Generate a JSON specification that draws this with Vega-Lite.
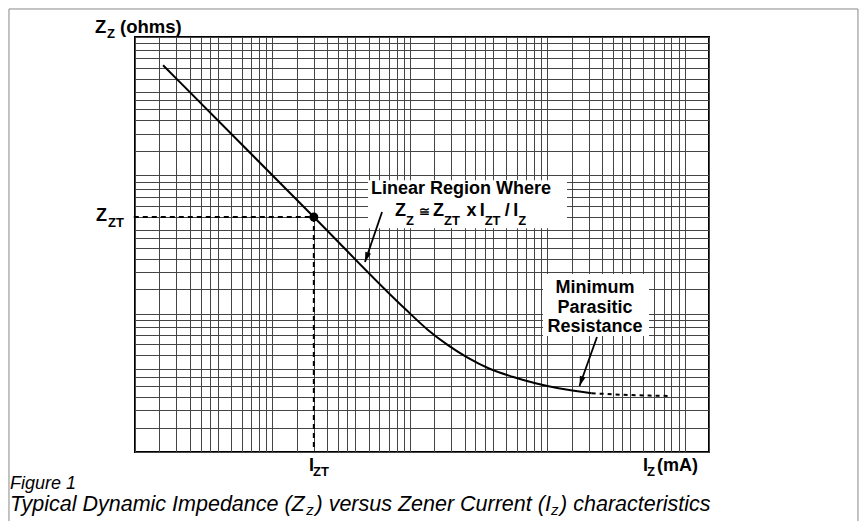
{
  "$schema": "https://vega.github.io/schema/vega-lite/v6.json",
  "width": 574,
  "height": 415,
  "autosize": {"type": "none"},
  "padding": {"left": 135, "top": 37, "right": 156, "bottom": 69},
  "background": "white",
  "config": {
    "view": {"stroke": "#000", "strokeWidth": 2},
    "font": "Liberation Sans"
  },
  "datasets": {
    "frame": [{"I": 0.1211, "I2": 181970, "Z": 1594, "Z2": 0.273}],
    "boxes": [
      {"I": 49.57, "I2": 1390, "Z": 92, "Z2": 41.5},
      {"I": 929.7, "I2": 5492, "Z": 19.36, "Z2": 6.9}
    ],
    "curve": [
      {"I": 1.6, "Z": 625}, {"I": 20, "Z": 50}, {"I": 93, "Z": 10.75},
      {"I": 136, "Z": 7.6}, {"I": 188, "Z": 5.95}, {"I": 259, "Z": 4.85},
      {"I": 380, "Z": 4.0}, {"I": 558, "Z": 3.5}, {"I": 820, "Z": 3.14},
      {"I": 1205, "Z": 2.89}, {"I": 2100, "Z": 2.66}
    ],
    "tail": [{"I": 2100, "Z": 2.66}, {"I": 4000, "Z": 2.58}, {"I": 8030, "Z": 2.54}],
    "refs": [
      {"I": 0.98, "I2": 20, "Z": 50, "Z2": 50},
      {"I": 20, "I2": 20, "Z": 50, "Z2": 1}
    ],
    "point": [{"I": 20, "Z": 50}],
    "arrows": [
      {"I": 62.7, "Z": 54.3, "I2": 47.1, "Z2": 23.6},
      {"I": 2297, "Z": 6.78, "I2": 1714, "Z2": 3.0}
    ],
    "centerBold": [
      {"I": 235.4, "Z": 73.0, "t": "Linear Region Where"},
      {"I": 2222, "Z": 14.1, "t": "Minimum"},
      {"I": 2222, "Z": 10.1, "t": "Parasitic"},
      {"I": 2222, "Z": 7.37, "t": "Resistance"}
    ],
    "titleBold": [
      {"I": 0.5117, "Z": 1069, "t": "Z"},
      {"I": 0.7777, "Z": 1069, "t": "(ohms)"}
    ],
    "mainBold": [
      {"I": 0.5203, "Z": 46.8, "t": "Z"},
      {"I": 18.45, "Z": 0.7288, "t": "I"},
      {"I": 4965, "Z": 0.7288, "t": "I"},
      {"I": 6276, "Z": 0.7288, "t": "(mA)"},
      {"I": 77.9, "Z": 50.9, "t": "Z"},
      {"I": 147.3, "Z": 50.9, "t": "Z"},
      {"I": 258, "Z": 50.9, "t": "x"},
      {"I": 322, "Z": 50.9, "t": "I"},
      {"I": 490, "Z": 50.9, "t": "/"},
      {"I": 565, "Z": 50.9, "t": "I"}
    ],
    "subBold": [
      {"I": 0.6256, "Z": 983.8, "t": "Z"},
      {"I": 0.6362, "Z": 41.98, "t": "ZT"},
      {"I": 19.72, "Z": 0.6706, "t": "ZT"},
      {"I": 5309, "Z": 0.6706, "t": "Z"},
      {"I": 93.7, "Z": 43.5, "t": "Z"},
      {"I": 116.5, "Z": 50.9, "t": "≅"},
      {"I": 177.1, "Z": 43.5, "t": "ZT"},
      {"I": 350, "Z": 43.5, "t": "ZT"},
      {"I": 614, "Z": 43.5, "t": "Z"}
    ],
    "figLabel": [
      {"I": 0.1232, "Z": 0.537, "t": "Figure 1"}
    ],
    "caption": [
      {"I": 0.1232, "Z": 0.3746, "t": "Typical Dynamic Impedance (Z"},
      {"I": 20.57, "Z": 0.3746, "t": ") versus Zener Current (I"},
      {"I": 1238, "Z": 0.3746, "t": ") characteristics"}
    ],
    "captionSub": [
      {"I": 17.63, "Z": 0.3504, "t": "z"},
      {"I": 1061, "Z": 0.3504, "t": "z"}
    ]
  },
  "encoding": {
    "x": {
      "field": "I", "type": "quantitative",
      "scale": {"type": "log", "domain": [1, 15000], "nice": false},
      "axis": {
        "title": null, "labels": false, "ticks": false, "domain": false,
        "grid": true, "gridColor": "#444", "gridWidth": 1, "gridOpacity": 1,
        "values": [1,1.5,2,2.5,3,3.5,4,5,6,7,8,9,10,15,20,25,30,35,40,50,60,70,80,90,100,150,200,250,300,350,400,500,600,700,800,900,1000,1500,2000,2500,3000,3500,4000,5000,6000,7000,8000,9000,10000,15000]
      }
    },
    "y": {
      "field": "Z", "type": "quantitative",
      "scale": {"type": "log", "domain": [1, 1000], "nice": false},
      "axis": {
        "title": null, "labels": false, "ticks": false, "domain": false,
        "grid": true, "gridColor": "#444", "gridWidth": 1, "gridOpacity": 1,
        "values": [1,1.5,2,2.5,3,3.5,4,5,6,7,8,9,10,15,20,25,30,35,40,50,60,70,80,90,100,150,200,250,300,350,400,500,600,700,800,900,1000]
      }
    }
  },
  "layer": [
    {
      "data": {"name": "frame"},
      "mark": {"type": "rect", "fill": null, "stroke": "#888", "strokeWidth": 1, "clip": false},
      "encoding": {"x2": {"field": "I2"}, "y2": {"field": "Z2"}}
    },
    {
      "data": {"name": "boxes"},
      "mark": {"type": "rect", "fill": "white", "stroke": null},
      "encoding": {"x2": {"field": "I2"}, "y2": {"field": "Z2"}}
    },
    {
      "data": {"name": "refs"},
      "mark": {"type": "rule", "color": "#000", "strokeWidth": 2, "strokeDash": [5, 4]},
      "encoding": {"x2": {"field": "I2"}, "y2": {"field": "Z2"}}
    },
    {
      "data": {"name": "curve"},
      "mark": {"type": "line", "color": "#000", "strokeWidth": 2, "interpolate": "monotone"}
    },
    {
      "data": {"name": "tail"},
      "mark": {"type": "line", "color": "#000", "strokeWidth": 2, "strokeDash": [4, 4], "interpolate": "monotone"}
    },
    {
      "data": {"name": "point"},
      "mark": {"type": "point", "filled": true, "color": "#000", "size": 80, "opacity": 1}
    },
    {
      "data": {"name": "arrows"},
      "mark": {"type": "rule", "color": "#000", "strokeWidth": 1.8},
      "encoding": {"x2": {"field": "I2"}, "y2": {"field": "Z2"}}
    },
    {
      "data": {"name": "arrows"},
      "mark": {"type": "point", "filled": true, "color": "#000", "opacity": 1, "size": 36, "angle": 199, "shape": "M0,0L1,3.3L-1,3.3Z"},
      "encoding": {"x": {"field": "I2", "type": "quantitative"}, "y": {"field": "Z2", "type": "quantitative"}}
    },
    {
      "data": {"name": "centerBold"},
      "mark": {"type": "text", "align": "center", "baseline": "alphabetic", "fontSize": 18, "fontWeight": "bold", "color": "#000"},
      "encoding": {"text": {"field": "t"}}
    },
    {
      "data": {"name": "titleBold"},
      "mark": {"type": "text", "align": "left", "baseline": "alphabetic", "fontSize": 18.5, "fontWeight": "bold", "color": "#000"},
      "encoding": {"text": {"field": "t"}}
    },
    {
      "data": {"name": "mainBold"},
      "mark": {"type": "text", "align": "left", "baseline": "alphabetic", "fontSize": 18, "fontWeight": "bold", "color": "#000"},
      "encoding": {"text": {"field": "t"}}
    },
    {
      "data": {"name": "subBold"},
      "mark": {"type": "text", "align": "left", "baseline": "alphabetic", "fontSize": 13, "fontWeight": "bold", "color": "#000"},
      "encoding": {"text": {"field": "t"}}
    },
    {
      "data": {"name": "figLabel"},
      "mark": {"type": "text", "align": "left", "baseline": "alphabetic", "fontSize": 18, "fontStyle": "italic", "color": "#000"},
      "encoding": {"text": {"field": "t"}}
    },
    {
      "data": {"name": "caption"},
      "mark": {"type": "text", "align": "left", "baseline": "alphabetic", "fontSize": 21.5, "fontStyle": "italic", "color": "#000"},
      "encoding": {"text": {"field": "t"}}
    },
    {
      "data": {"name": "captionSub"},
      "mark": {"type": "text", "align": "left", "baseline": "alphabetic", "fontSize": 15, "fontStyle": "italic", "color": "#000"},
      "encoding": {"text": {"field": "t"}}
    }
  ]
}
